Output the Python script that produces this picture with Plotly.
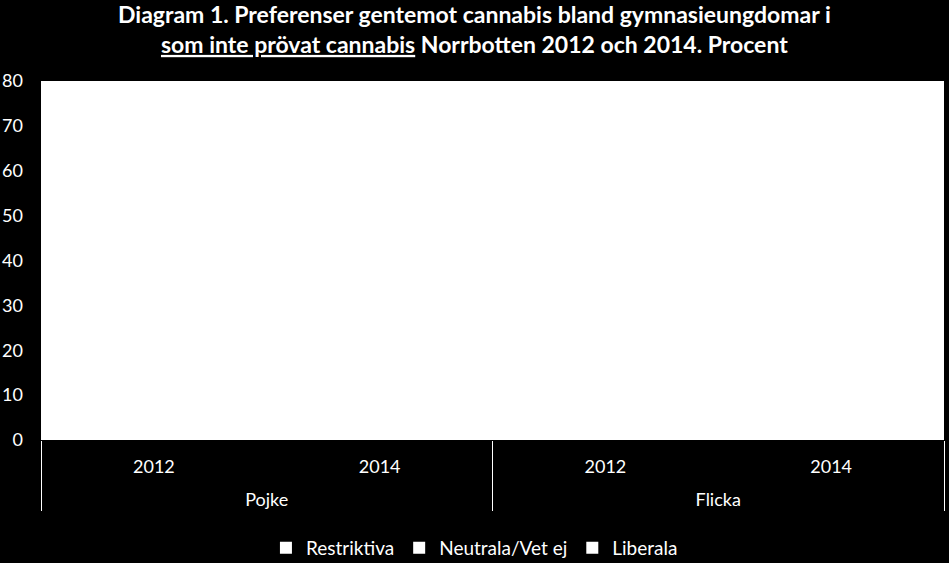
import plotly.graph_objects as go

# Kategorier: kön och år
kon = ["Pojke", "Pojke", "Flicka", "Flicka"]
ar = ["2012", "2014", "2012", "2014"]

# Procent per preferens (uppskattade, staplarna är vita i originalet)
restriktiva = [56, 52, 66, 63]
neutrala = [30, 31, 26, 28]
liberala = [14, 17, 8, 9]

serier = [
    ("Restriktiva", restriktiva),
    ("Neutrala/Vet ej", neutrala),
    ("Liberala", liberala),
]

FONT = "Lato"

# en tom rad före könet så att den nedre etikettraden hamnar längre ner
kon_etikett = ["<br>" + k for k in kon]

fig = go.Figure()
for namn, varden in serier:
    fig.add_trace(go.Bar(
        x=[kon_etikett, ar],
        y=varden,
        name=namn,
        marker=dict(color="white", line=dict(color="white", width=0)),
    ))

# Rubrik som annotation ovanför ritytan
fig.add_annotation(
    text="<b>Diagram 1. Preferenser gentemot cannabis bland gymnasieungdomar i<br>"
         "<span style='text-decoration:underline'>som inte prövat cannabis</span>"
         " Norrbotten 2012 och 2014. Procent</b>",
    xref="paper", yref="paper", x=0.48, y=1.145,
    xanchor="center", yanchor="middle", showarrow=False,
    font=dict(family=FONT, size=23, color="white"),
)

fig.update_layout(
    width=949,
    height=563,
    barmode="group",
    paper_bgcolor="black",
    plot_bgcolor="white",
    margin=dict(l=41, r=5, t=81, b=123, autoexpand=False),
    font=dict(family=FONT, color="white", size=18),
    showlegend=True,
    legend=dict(
        orientation="h", x=0.48, xanchor="center",
        yref="container", y=0.027, yanchor="middle",
        font=dict(family=FONT, size=19, color="white"),
        bgcolor="rgba(0,0,0,0)",
    ),
)

fig.update_yaxes(
    range=[0, 80], dtick=10, showgrid=False, zeroline=False,
    showline=False, ticks="", tickfont=dict(color="white", size=18),
    ticklabelstandoff=17, automargin=False, fixedrange=True,
)
fig.update_xaxes(
    type="multicategory", showgrid=False, showline=False,
    showdividers=True, dividercolor="white", dividerwidth=1,
    tickfont=dict(color="white", size=18), automargin=False,
    ticklabelstandoff=14,
)

fig.write_html(
    "out.html",
    config={"displayModeBar": False},
    post_script="document.body.style.margin='0';document.body.style.background='black';",
)
